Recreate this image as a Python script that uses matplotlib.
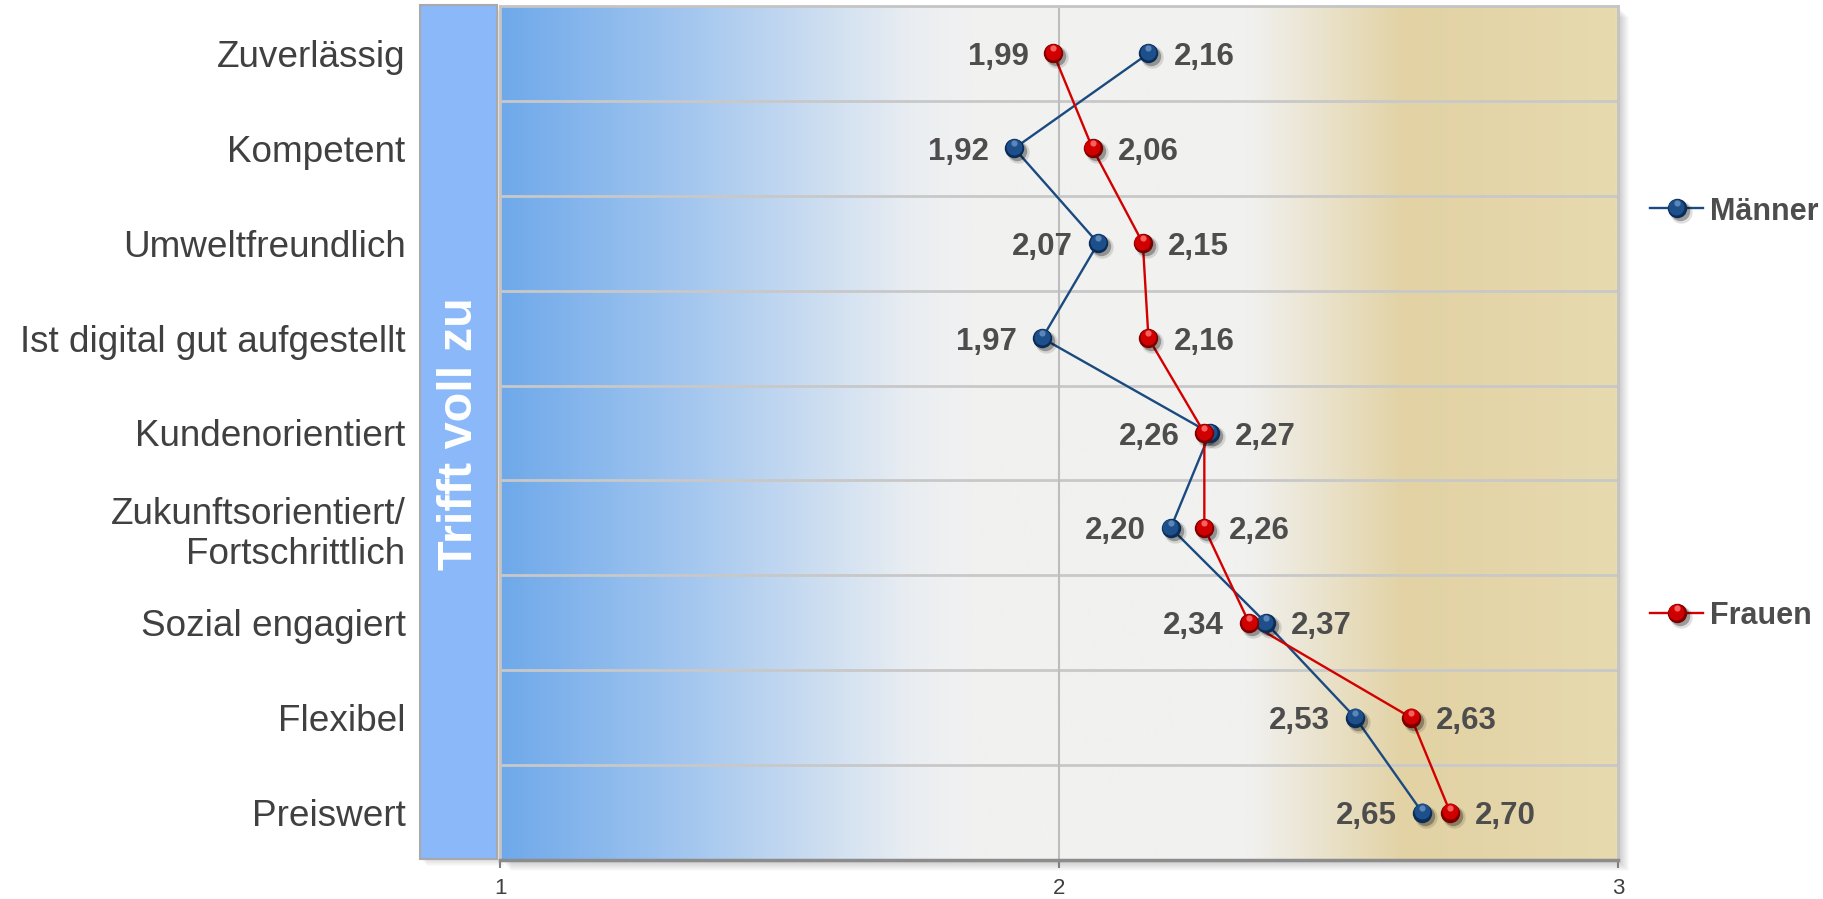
import numpy as np
import matplotlib
matplotlib.use("Agg")
import matplotlib.pyplot as plt
from matplotlib.colors import LinearSegmentedColormap
from matplotlib.patches import Rectangle
from matplotlib.transforms import offset_copy

plt.rcParams['font.family'] = ['Liberation Sans', 'DejaVu Sans']

# ---- data -------------------------------------------------------------
categories = [
    "Zuverlässig",
    "Kompetent",
    "Umweltfreundlich",
    "Ist digital gut aufgestellt",
    "Kundenorientiert",
    "Zukunftsorientiert/\nFortschrittlich",
    "Sozial engagiert",
    "Flexibel",
    "Preiswert",
]
maenner = [2.16, 1.92, 2.07, 1.97, 2.27, 2.20, 2.37, 2.53, 2.65]
frauen = [1.99, 2.06, 2.15, 2.16, 2.26, 2.26, 2.34, 2.63, 2.70]
series_names = ["Männer", "Frauen"]
x_ticks = [1, 2, 3]
side_label = "Trifft voll zu"

# ---- styling ------------------------------------------------------------
BLUE = dict(line="#1b4a80", dark="#0a2c58", body="#1d4f8a", light="#6d93c4")
RED = dict(line="#d30000", dark="#7d0000", body="#d00000", light="#ff7a7a")
LABEL_C = "#4d4d4d"
CAT_C = "#404040"

W, H = 1824, 899
fig = plt.figure(figsize=(W / 100, H / 100), dpi=100)


def fig_box(x0, y0, x1, y1):
    """Pixel box (top-left origin) -> figure fraction rect."""
    return [x0 / W, 1 - y1 / H, (x1 - x0) / W, (y1 - y0) / H]


def sphere(axes, xs, ys, pal, size=14, transform=None):
    """Draw shaded ball markers with a soft drop shadow."""
    base = axes.transData if transform is None else transform
    for dx, dy, ms, a in ((4, -4, size * 1.15, 0.12), (3, -3, size, 0.3)):
        tr = offset_copy(base, fig=fig, x=dx, y=dy, units='dots')
        axes.plot(xs, ys, 'o', ms=ms, mfc='black', mec='none', alpha=a,
                  transform=tr, zorder=3)
    axes.plot(xs, ys, 'o', ms=size, mfc=pal["dark"], mec='none',
              transform=base, zorder=4)
    tr = offset_copy(base, fig=fig, x=-0.5, y=1.2, units='dots')
    axes.plot(xs, ys, 'o', ms=size * 0.82, mfc=pal["body"], mec='none',
              transform=tr, zorder=4)
    tr = offset_copy(base, fig=fig, x=0, y=5, units='dots')
    axes.plot(xs, ys, 'o', ms=size * 0.32, mfc=pal["light"], mec='none',
              alpha=0.8, transform=tr, zorder=4)


# ---- decoration layer in pixel coordinates ------------------------------
deco = fig.add_axes([0, 0, 1, 1], zorder=0)
deco.set_xlim(0, W)
deco.set_ylim(H, 0)
deco.axis('off')

PX0, PY0, PX1, PY1 = 500, 6, 1618, 860
for k in range(1, 12):
    deco.add_patch(Rectangle((PX0 + k, PY0 + k), PX1 - PX0, PY1 - PY0,
                             fc='black', ec='none', alpha=0.018))

BX0, BY0, BX1, BY1 = 420, 5, 497, 859
for k in range(1, 8):
    deco.add_patch(Rectangle((BX0 + k, BY0 + k), BX1 - BX0, BY1 - BY0,
                             fc='black', ec='none', alpha=0.02))
deco.add_patch(Rectangle((BX0, BY0), BX1 - BX0, BY1 - BY0,
                         fc='#8ab8f9', ec='#a9a9a9', lw=1.5))
deco.text((BX0 + BX1) / 2 + 1, (BY0 + BY1) / 2 + 2, side_label, rotation=90,
          ha='center', va='center', color='white', fontsize=35,
          fontweight='bold')

# ---- main plot ------------------------------------------------------------
ax = fig.add_axes(fig_box(PX0, PY0, PX1, PY1), zorder=1)
n = len(categories)
ypos = np.arange(n)

bg = LinearSegmentedColormap.from_list(
    'bg', [(0.0, '#6fa9ea'), (0.17, '#a4c7ef'), (0.37, '#eaeef2'),
           (0.42, '#f1f1f1'), (0.67, '#f1f1f0'), (0.81, '#e2d2a4'),
           (1.0, '#e7daaf')])
ax.imshow(np.linspace(0, 1, 512).reshape(1, -1), cmap=bg,
          extent=[1, 3, n - 0.5, -0.5], aspect='auto', zorder=0,
          interpolation='bilinear')
ax.set_xlim(1, 3)
ax.set_ylim(n - 0.5, -0.5)

for i in range(n - 1):
    ax.axhline(i + 0.5, color='#c8c8c8', lw=2, zorder=1)
ax.axvline(2, color='#bdbdbd', lw=1.5, zorder=1)

ax.plot(maenner, ypos, color=BLUE["line"], lw=1.7, zorder=2)
ax.plot(frauen, ypos, color=RED["line"], lw=1.7, zorder=2)
sphere(ax, maenner, ypos, BLUE)
sphere(ax, frauen, ypos, RED)

# value labels: the smaller value of a row sits left of its ball
for i in range(n):
    for v, other in ((maenner[i], frauen[i]), (frauen[i], maenner[i])):
        left = v < other
        ax.annotate(f"{v:.2f}".replace('.', ','), (v, i),
                    xytext=(-18 if left else 18, 0),
                    textcoords='offset points',
                    ha='right' if left else 'left', va='center_baseline',
                    fontsize=22.5, fontweight='bold', color=LABEL_C, zorder=5)

ax.set_yticks(ypos)
ax.set_yticklabels(categories, fontsize=26.6, color=CAT_C,
                   va='center_baseline')
for t in ax.get_yticklabels():
    t.set_linespacing(1.2)
ax.tick_params(axis='y', length=0, pad=68)

ax.set_xticks(x_ticks)
ax.set_xticklabels([str(t) for t in x_ticks], fontsize=16, color=CAT_C)
ax.tick_params(axis='x', length=6, width=1.5, color='#808080', pad=7)

for side in ('left', 'top', 'right'):
    ax.spines[side].set_color('#c4c4c4')
    ax.spines[side].set_linewidth(2)
ax.spines['bottom'].set_color('#8c8c8c')
ax.spines['bottom'].set_linewidth(2.5)

# ---- legend ------------------------------------------------------------
for name, pal, ly in ((series_names[0], BLUE, 208), (series_names[1], RED, 613)):
    deco.plot([1650, 1703], [ly, ly], color=pal["line"], lw=1.7)
    sphere(deco, [1677], [ly], pal, size=14)
    deco.text(1710, ly, name, ha='left', va='center_baseline', fontsize=22,
              fontweight='bold', color=LABEL_C)

fig.savefig('out.png', dpi=100)
